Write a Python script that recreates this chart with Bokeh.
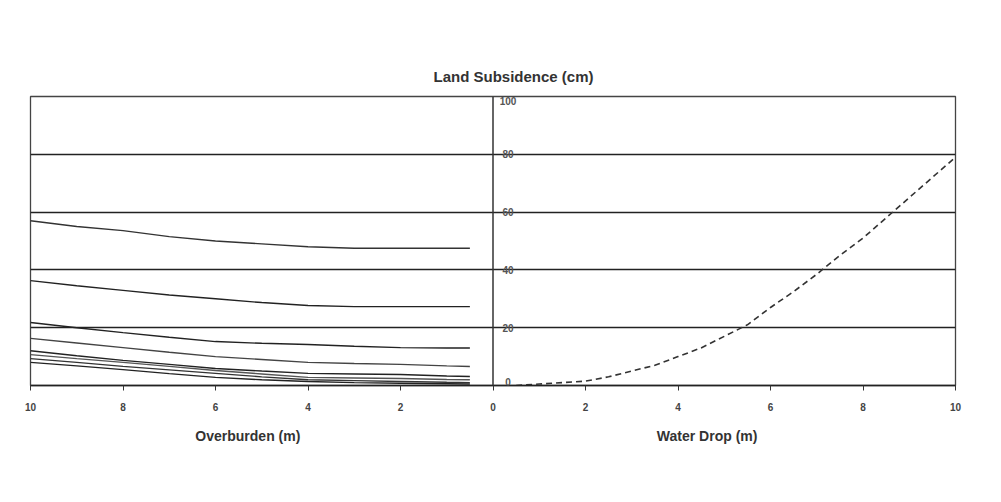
from bokeh.plotting import figure
from bokeh.models import (Range1d, Legend, LegendItem, FixedTicker, LinearAxis,
                          CustomJSTickFormatter, Label, Span)
from bokeh.embed import file_html
from bokeh.resources import INLINE

# ---------------- data ----------------
overburden = [10, 9, 8, 7, 6, 5, 4, 3, 2, 1, 0.5]
series_names = ["1th", "5th", "7th", "9th", "12th", "15th", "20th", "25th"]
s_1th = [8.0, 6.8, 5.5, 4.1, 2.8, 2.0, 1.4, 1.0, 0.8, 0.6, 0.5]
s_5th = [9.3, 8.0, 6.6, 5.4, 4.2, 3.0, 2.0, 1.7, 1.4, 1.1, 1.0]
s_7th = [10.7, 9.3, 8.0, 6.6, 5.2, 4.0, 2.8, 2.6, 2.4, 2.1, 2.0]
s_9th = [12.0, 10.3, 8.7, 7.3, 5.9, 5.0, 4.2, 4.0, 3.8, 3.3, 3.1]
s_12th = [16.3, 14.7, 13.1, 11.5, 10.0, 9.0, 8.0, 7.6, 7.3, 6.8, 6.6]
s_15th = [21.8, 20.0, 18.3, 16.7, 15.2, 14.6, 14.2, 13.6, 13.1, 13.0, 13.0]
s_20th = [36.3, 34.5, 32.9, 31.3, 30.0, 28.7, 27.7, 27.3, 27.3, 27.3, 27.3]
s_25th = [57.0, 55.0, 53.6, 51.5, 50.0, 49.0, 48.0, 47.5, 47.5, 47.5, 47.5]
series_values = [s_1th, s_5th, s_7th, s_9th, s_12th, s_15th, s_20th, s_25th]

water_drop = [0.5, 1, 1.5, 2, 2.5, 3, 3.5, 4, 4.5, 5,
              5.5, 6, 6.5, 7, 7.5, 8, 8.5, 9, 9.5, 10]
aquifer_settlement = [0, 0.5, 1, 1.5, 3, 5, 7, 10, 13, 17,
                      21, 27, 32.5, 38.5, 45, 51, 58, 65, 72, 79]
aquifer_name = "Land Subsidence by Aquifer Settlement"

x_ticks = [-10, -8, -6, -4, -2, 0, 2, 4, 6, 8, 10]
y_ticks = [0, 20, 40, 60, 80, 100]
y_tick_labels = ["0", "20", "40", "60", "80", "100"]
grid_ticks = [20, 40, 60, 80]
title_text = "Land Subsidence (cm)"
axis_titles = ["Overburden (m)", "Water Drop (m)"]
axis_title_positions = [-5.3, 4.63]

FONT = "Liberation Sans"
series_colors = ["#222222", "#333333", "#555555", "#222222",
                 "#444444", "#222222", "#222222", "#333333"]

# ---------------- figure ----------------
p = figure(width=1001, height=502, frame_width=925, frame_height=289,
           output_backend="svg", toolbar_location=None,
           x_range=Range1d(-10, 10), y_range=Range1d(0, 100),
           min_border_left=30, min_border_right=46,
           min_border_top=96, min_border_bottom=20)
p.background_fill_color = "white"
p.border_fill_color = "white"
p.outline_line_color = "#444444"
p.outline_line_width = 1.3

p.title.text = title_text
p.title.align = "left"
p.title.offset = 403
p.title.standoff = 23
p.title.text_font = FONT
p.title.text_font_size = "15px"
p.title.text_font_style = "bold"
p.title.text_color = "#333333"

p.xgrid.visible = False
p.yaxis.visible = False
p.yaxis.ticker = FixedTicker(ticks=grid_ticks)
p.ygrid.ticker = FixedTicker(ticks=grid_ticks)
p.ygrid.grid_line_color = "#222222"
p.ygrid.grid_line_width = 1.3

xa = p.xaxis[0]
xa.ticker = FixedTicker(ticks=x_ticks)
xa.formatter = CustomJSTickFormatter(code="return Math.abs(tick).toString();")
xa.axis_line_color = "#222222"
xa.axis_line_width = 1.6
xa.major_tick_out = 5
xa.major_tick_in = 0
xa.major_tick_line_color = "#333333"
xa.minor_tick_line_color = None
xa.major_label_standoff = 12
xa.major_label_text_font = FONT
xa.major_label_text_font_size = "10px"
xa.major_label_text_font_style = "bold"
xa.major_label_text_color = "#444444"

# second bottom axis carrying the two half-axis titles
ta = LinearAxis(ticker=FixedTicker(ticks=axis_title_positions),
                formatter=CustomJSTickFormatter(args=dict(names=axis_titles),
                                                code="return tick < 0 ? names[0] : names[1];"))
ta.axis_line_color = None
ta.major_tick_line_color = None
ta.minor_tick_line_color = None
ta.major_tick_out = 0
ta.major_tick_in = 0
ta.major_label_standoff = 14
ta.major_label_text_font = FONT
ta.major_label_text_font_size = "14px"
ta.major_label_text_font_style = "bold"
ta.major_label_text_color = "#333333"
p.add_layout(ta, "below")

# centre vertical axis line
p.add_layout(Span(location=0, dimension="height", line_color="#333333", line_width=1.5))

items = []
for name, vals, col in zip(series_names, series_values, series_colors):
    r = p.line([-v for v in overburden], vals, line_color=col, line_width=1.4)
    items.append(LegendItem(label=name, renderers=[r]))

rd = p.line(water_drop, aquifer_settlement, line_color="#333333",
            line_width=1.6, line_dash="6 4")
items.append(LegendItem(label=aquifer_name, renderers=[rd]))

# y tick labels beside the centre axis (kept inside the frame)
for yv, lab in zip(y_ticks, y_tick_labels):
    if yv >= max(y_ticks):
        base = "top"
    elif yv <= min(y_ticks):
        base = "bottom"
    else:
        base = "middle"
    p.add_layout(Label(x=0, y=yv, x_offset=15, text=lab, text_align="center",
                       text_baseline=base, text_font=FONT, text_font_size="10px",
                       text_font_style="bold", text_color="#555555"))

legend = Legend(items=items, orientation="horizontal", location=(16, 33),
                glyph_width=40, glyph_height=20, label_standoff=8, spacing=15,
                padding=2, margin=10, border_line_color=None,
                background_fill_alpha=0,
                label_text_font=FONT, label_text_font_size="10px",
                label_text_color="#555555")
p.add_layout(legend, "below")

open("out.html", "w").write(file_html(p, INLINE))
